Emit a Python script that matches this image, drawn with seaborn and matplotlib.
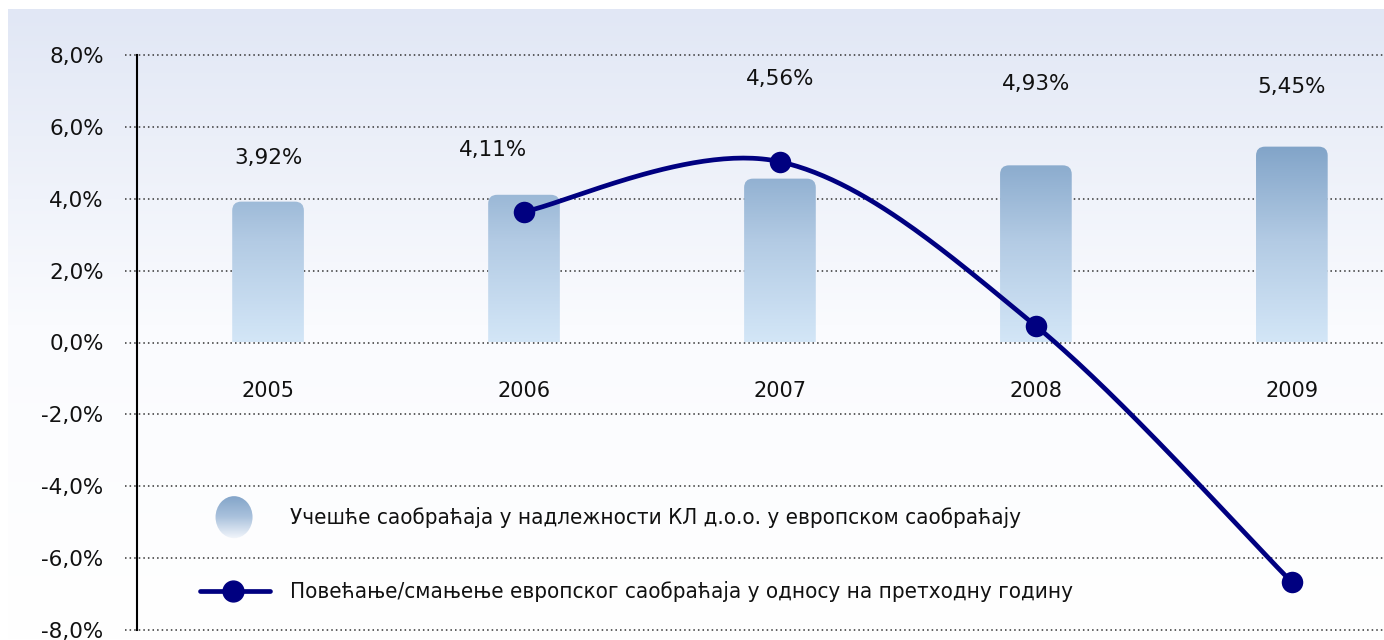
import numpy as np
import matplotlib
matplotlib.use('Agg')
import matplotlib.pyplot as plt
import seaborn as sns
from matplotlib.patches import FancyBboxPatch, Ellipse
from matplotlib.colors import LinearSegmentedColormap

# data
years = ['2005', '2006', '2007', '2008', '2009']
share = [3.92, 4.11, 4.56, 4.93, 5.45]
share_labels = ['3,92%', '4,11%', '4,56%', '4,93%', '5,45%']
change_years = ['2006', '2007', '2008', '2009']
change = [3.64, 5.03, 0.46, -6.67]
y_ticks = [-8, -6, -4, -2, 0, 2, 4, 6, 8]
legend_share = 'Учешће саобраћаја у надлежности КЛ д.о.о. у европском саобраћају'
legend_change = 'Повећање/смањење европског саобраћаја у односу на претходну годину'

NAVY = '#000080'
bar_cmap = LinearSegmentedColormap.from_list('bar', ['#d3e6f7', '#b3cbe4', '#7fa2c7'])
bg_cmap = LinearSegmentedColormap.from_list('bg', ['#ffffff', '#fafbfe', '#e1e7f5'])


def smooth(xs, ys, n=60):
    # catmull-rom style bezier through the points (like office "smoothed line")
    pts = np.column_stack([xs, ys]).astype(float)
    out = []
    t = np.linspace(0, 1, n)[:, None]
    for i in range(len(pts) - 1):
        p0 = pts[max(i - 1, 0)]
        p1 = pts[i]
        p2 = pts[i + 1]
        p3 = pts[min(i + 2, len(pts) - 1)]
        c1 = p1 + (p2 - p0) / 6
        c2 = p2 - (p3 - p1) / 6
        seg = (1 - t) ** 3 * p1 + 3 * (1 - t) ** 2 * t * c1 + 3 * (1 - t) * t ** 2 * c2 + t ** 3 * p2
        out.append(seg)
    out = np.vstack(out)
    return out[:, 0], out[:, 1]


if __name__ == '__main__':
    sns.set_theme(style='white')
    plt.rcParams['font.family'] = ['DejaVu Sans']

    W, H = 1384, 640
    fig = plt.figure(figsize=(W / 100, H / 100), dpi=100)

    # background gradient panel
    bg = fig.add_axes([8 / W, 0, 1 - 8 / W, (H - 9) / H], zorder=0)
    grad = np.linspace(0, 1, 256)[:, None]
    bg.imshow(grad, aspect='auto', cmap=bg_cmap, origin='lower', extent=[0, 1, 0, 1])
    bg.set_axis_off()

    ax = fig.add_axes([137 / W, 10 / H, 1 - 137 / W, (H - 65) / H], zorder=1)
    ax.patch.set_alpha(0)

    sns.barplot(x=years, y=share, width=0.28, ax=ax, color='#a0bcd8')

    xlim = (-0.512, 4.36)
    ylim = (-8, 8)
    px_x = (W - 137) / (xlim[1] - xlim[0])
    px_y = (H - 65) / (ylim[1] - ylim[0])

    r = 9 / px_x
    for p in ax.patches:
        x0, w, h = p.get_x(), p.get_width(), p.get_height()
        p.set_visible(False)
        shape = FancyBboxPatch((x0, -1), w, h + 1,
                               boxstyle=f'round,pad=0,rounding_size={r}',
                               mutation_aspect=px_x / px_y,
                               fc='none', ec='none', transform=ax.transData)
        ax.add_patch(shape)
        im = ax.imshow(np.linspace(0, h, 256)[:, None], cmap=bar_cmap, vmin=0, vmax=5.6,
                       origin='lower', aspect='auto', extent=[x0, x0 + w, 0, h], zorder=2)
        im.set_clip_path(shape)

    # smoothed change line
    cx = [years.index(y) for y in change_years]
    sx, sy = smooth(cx, change)
    ax.plot(sx, sy, color=NAVY, lw=3.4, zorder=3, solid_capstyle='round')
    sns.scatterplot(x=cx, y=change, ax=ax, s=240, color=NAVY, edgecolor=NAVY,
                    linewidth=0, zorder=4)

    # value labels
    label_pos = [(0, 5.14), (0.88, 5.37), (2, 7.32), (3, 7.18), (4, 7.1)]
    for (lx, ly), txt in zip(label_pos, share_labels):
        ax.text(lx, ly, txt, ha='center', va='center', fontsize=15.5, color='#111111')

    # year labels under zero line
    for i, yr in enumerate(years):
        ax.text(i, -1.35, yr, ha='center', va='center', fontsize=15, color='#111111')

    # dotted grid lines extending a bit past the axis
    for yt in y_ticks:
        ax.axhline(yt, xmin=-12 / (W - 137), xmax=1, color='#333333', lw=1.1,
                   ls=(0, (1, 2)), clip_on=False, zorder=1)

    # legend drawn inside the plot area
    lx_e = (234 - 268) / px_x
    ell = Ellipse((lx_e, -4.86), 37 / px_x, 42 / px_y, fc='none', ec='none')
    ax.add_patch(ell)
    eim = ax.imshow(np.linspace(0, 1, 256)[:, None],
                    cmap=LinearSegmentedColormap.from_list('leg', ['#f4f7fc', '#a9c1dc', '#7fa2c7']),
                    origin='lower', aspect='auto',
                    extent=[lx_e - 20 / px_x, lx_e + 20 / px_x, -4.86 - 22 / px_y, -4.86 + 22 / px_y],
                    zorder=3)
    eim.set_clip_path(ell)
    ax.text((290 - 268) / px_x, -4.86, legend_share, ha='left', va='center',
            fontsize=16, color='#111111', fontstretch='condensed')

    ax.plot([(200 - 268) / px_x, (270 - 268) / px_x], [-6.92, -6.92], color=NAVY, lw=3.4, zorder=3)
    ax.plot([(233 - 268) / px_x], [-6.92], 'o', color=NAVY, ms=15, zorder=4)
    ax.text((290 - 268) / px_x, -6.92, legend_change, ha='left', va='center',
            fontsize=16, color='#111111', fontstretch='condensed')

    ax.set_xlim(xlim)
    ax.set_ylim(ylim)
    ax.set_yticks(y_ticks)
    ax.set_yticklabels([f'{v:.1f}%'.replace('.', ',') for v in y_ticks], fontsize=15.5, color='#111111')
    ax.tick_params(axis='y', length=0, pad=24)
    ax.set_xticks([])
    ax.set_xlabel('')
    ax.set_ylabel('')
    sns.despine(ax=ax, top=True, right=True, bottom=True)
    ax.spines['left'].set_color('black')
    ax.spines['left'].set_linewidth(1.5)
    ax.spines['left'].set_zorder(5)

    fig.savefig('out.png', dpi=100)
    plt.close('all')
